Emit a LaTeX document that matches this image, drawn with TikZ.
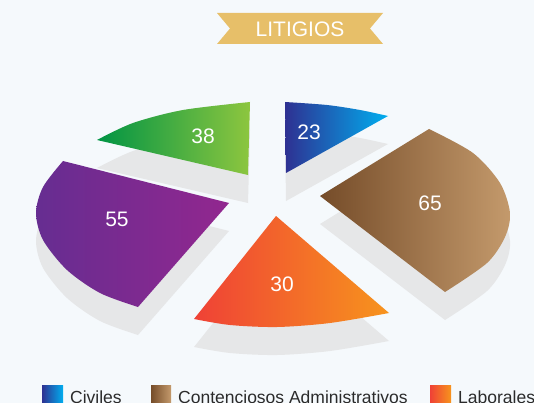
\documentclass[tikz,border=0pt]{standalone}
\usepackage{fontspec}
\setmainfont{Liberation Sans}
\usepackage{tikz}

\definecolor{fondo}{HTML}{F5F9FC}
\definecolor{oro}{HTML}{E7BF69}
\definecolor{sombragris}{HTML}{E6E7E8}
\definecolor{textogris}{HTML}{2B2B2B}
\definecolor{azulA}{HTML}{2E3192}
\definecolor{azulB}{HTML}{00AEEF}
\definecolor{cafeA}{HTML}{754C29}
\definecolor{cafeB}{HTML}{C49A6C}
\definecolor{naranjaA}{HTML}{EF4136}
\definecolor{naranjaB}{HTML}{F7941D}
\definecolor{moradoA}{HTML}{662D91}
\definecolor{moradoB}{HTML}{92278F}
\definecolor{verdeA}{HTML}{009444}
\definecolor{verdeB}{HTML}{8DC63F}

% rebanadas del pastel (en pixeles)
\def\pathCiviles{(286,173) -- plot[smooth] coordinates {(285,102) (327,105) (360,110) (388,116)} -- cycle}
\def\pathContenciosos{(320,196) -- plot[smooth] coordinates {(429,129) (473,153) (500,183) (510,213) (505,237) (487,263) (445,292)} -- cycle}
\def\pathLaborales{(276,216) -- plot[smooth] coordinates {(389,313) (330,323) (277,327) (230,325) (194,319)} -- cycle}
\def\pathMorado{(229,203) -- plot[smooth] coordinates {(63,161) (43,187) (36,213) (43,240) (67,270) (100,293) (138,307)} -- cycle}
\def\pathVerde{(248,175) -- plot[smooth] coordinates {(97,140) (133,123) (183,110) (250,102)} -- cycle}

\begin{document}
\begin{tikzpicture}[x=1pt, y=-1pt,
  valor/.style={text=white, font=\fontsize{21}{21}\selectfont},
  leyenda/.style={anchor=base west, text=textogris, inner sep=0pt, font=\fontsize{17.5}{17.5}\selectfont},
  sombra/.style={fill=sombragris, shift={(0,28)}}]
\clip (0,0) rectangle (534,403);
\fill[fondo] (0,0) rectangle (534,403);
% titulo
\fill[oro] (217,13) -- (383,13) -- (370,28.5) -- (383,44) -- (217,44) -- (230,28.5) -- cycle;
\node[text=white, font=\fontsize{21}{21}\selectfont] (titulo) at (300,29) {LITIGIOS};
% sombras
\foreach \rebanada in {\pathCiviles, \pathContenciosos, \pathLaborales, \pathMorado, \pathVerde}
  \fill[sombra] \rebanada;
% rebanadas
\shade[left color=azulA, right color=azulB] \pathCiviles;
\shade[left color=cafeA, right color=cafeB] \pathContenciosos;
\shade[left color=naranjaA, right color=naranjaB] \pathLaborales;
\shade[left color=moradoA, right color=moradoB] \pathMorado;
\shade[left color=verdeA, right color=verdeB] \pathVerde;
\node[valor] (v23) at (309,132) {23};
\node[valor] (v65) at (430,203) {65};
\node[valor] (v30) at (282,284) {30};
\node[valor] (v55) at (117,219) {55};
\node[valor] (v38) at (203,136) {38};
% leyenda
\shade[left color=azulA, right color=azulB] (42,385) rectangle (63,406);
\node[leyenda] (civiles) at (70,403) {Civiles};
\shade[left color=cafeA, right color=cafeB] (151,385) rectangle (171,406);
\node[leyenda] (contenciosos) at (178,403) {Contenciosos Administrativos};
\shade[left color=naranjaA, right color=naranjaB] (430,385) rectangle (451,406);
\node[leyenda] (laborales) at (458,403) {Laborales};
\end{tikzpicture}
\end{document}
